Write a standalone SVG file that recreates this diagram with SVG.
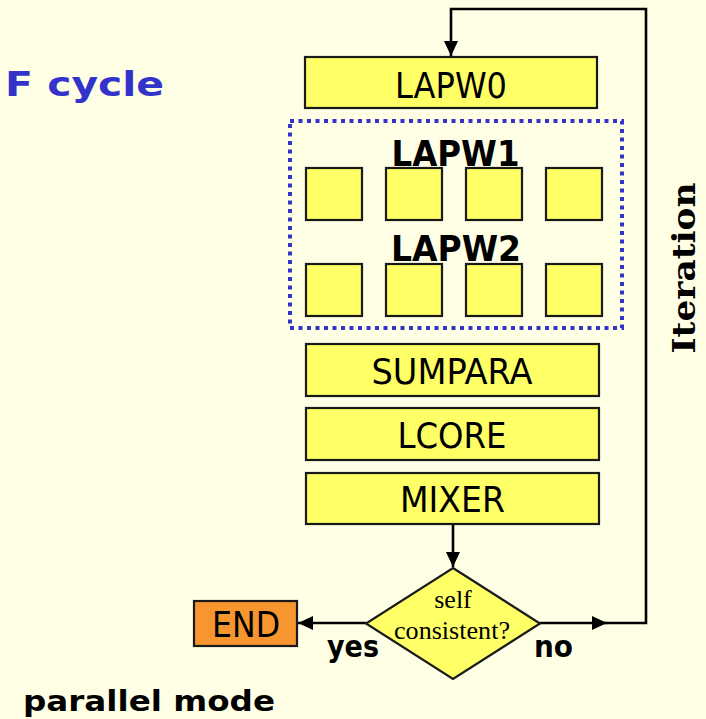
<svg xmlns="http://www.w3.org/2000/svg" width="706" height="719" viewBox="0 0 706 719">
<defs>
<marker id="ah" markerUnits="userSpaceOnUse" markerWidth="15" markerHeight="14" refX="15" refY="7" orient="auto">
<path d="M0,0 L15,7 L0,14 z" fill="#000"/>
</marker>
<style>
.box{fill:#FFFF66;stroke:#1a1a1a;stroke-width:2.2}
.lbl{font-family:"DejaVu Sans","Liberation Sans",sans-serif;font-size:36px;fill:#000;text-anchor:middle}
.bl{font-family:"DejaVu Sans","Liberation Sans",sans-serif;font-weight:bold;fill:#000}
.conn{fill:none;stroke:#000;stroke-width:2.6}
.blue{font-family:"DejaVu Sans","Liberation Sans",sans-serif;font-weight:bold;fill:#3333CC}
</style>
</defs>
<rect x="0" y="0" width="706" height="719" fill="#FFFFE6"/>

<text class="blue" x="164" y="96" font-size="34" text-anchor="end" textLength="159" lengthAdjust="spacingAndGlyphs">F cycle</text>
<text class="bl" x="23" y="711" font-size="29" textLength="252" lengthAdjust="spacingAndGlyphs">parallel mode</text>
<text class="bl" x="0" y="0" font-family="'DejaVu Serif','Liberation Serif',serif" font-size="31" text-anchor="middle" textLength="171" lengthAdjust="spacingAndGlyphs" transform="translate(695,268) rotate(-90)" style="font-family:'DejaVu Serif','Liberation Serif',serif">Iteration</text>

<g id="connectors">
<path class="conn" d="M453,524 V567" marker-end="url(#ah)"/>
<path class="conn" d="M366,623 H298" marker-end="url(#ah)"/>
<path class="conn" d="M540,623 H607" marker-end="url(#ah)"/>
<path class="conn" d="M605,623 H646 V9 H451 V56" marker-end="url(#ah)"/>
<text class="bl" x="327" y="657" font-size="30" textLength="52" lengthAdjust="spacingAndGlyphs">yes</text>
<text class="bl" x="534" y="657" font-size="30" textLength="39" lengthAdjust="spacingAndGlyphs">no</text>
</g>

<g id="LAPW0">
<rect class="box" x="305" y="57" width="292" height="51"/>
<text class="lbl" x="451" y="98" font-size="37" textLength="112" lengthAdjust="spacingAndGlyphs">LAPW0</text>
</g>

<g id="parallel-group">
<rect x="290" y="121" width="332" height="207" fill="none" stroke="#3333CC" stroke-width="4" stroke-dasharray="4 4.5"/>
</g>

<g id="LAPW1">
<text class="bl" x="455.5" y="166" font-size="35" text-anchor="middle" textLength="128" lengthAdjust="spacingAndGlyphs">LAPW1</text>
<rect class="box" x="306" y="168" width="56" height="52"/>
<rect class="box" x="386" y="168" width="56" height="52"/>
<rect class="box" x="466" y="168" width="56" height="52"/>
<rect class="box" x="546" y="168" width="56" height="52"/>
</g>

<g id="LAPW2">
<text class="bl" x="456" y="261" font-size="35" text-anchor="middle" textLength="130" lengthAdjust="spacingAndGlyphs">LAPW2</text>
<rect class="box" x="306" y="264" width="56" height="52"/>
<rect class="box" x="386" y="264" width="56" height="52"/>
<rect class="box" x="466" y="264" width="56" height="52"/>
<rect class="box" x="546" y="264" width="56" height="52"/>
</g>

<g id="SUMPARA">
<rect class="box" x="306" y="344" width="293" height="52"/>
<text class="lbl" x="452" y="384" textLength="161" lengthAdjust="spacingAndGlyphs">SUMPARA</text>
</g>

<g id="LCORE">
<rect class="box" x="306" y="408" width="293" height="52"/>
<text class="lbl" x="452" y="448" textLength="109" lengthAdjust="spacingAndGlyphs">LCORE</text>
</g>

<g id="MIXER">
<rect class="box" x="306" y="473" width="293" height="51"/>
<text class="lbl" x="452.5" y="512" textLength="105" lengthAdjust="spacingAndGlyphs">MIXER</text>
</g>

<g id="decision">
<polygon class="box" points="453,568 540,623.5 453,679 366,623.5"/>
<text x="453" y="608" font-family="'Liberation Serif','Times New Roman',serif" font-size="26" text-anchor="middle" fill="#000">self</text>
<text x="452" y="639" font-family="'Liberation Serif','Times New Roman',serif" font-size="26" text-anchor="middle" fill="#000" textLength="116" lengthAdjust="spacingAndGlyphs">consistent?</text>
</g>

<g id="END">
<rect x="194" y="601" width="103" height="45" fill="#F7962F" stroke="#1a1a1a" stroke-width="2.2"/>
<text class="lbl" x="246" y="637" font-size="34" textLength="68" lengthAdjust="spacingAndGlyphs">END</text>
</g>
</svg>
